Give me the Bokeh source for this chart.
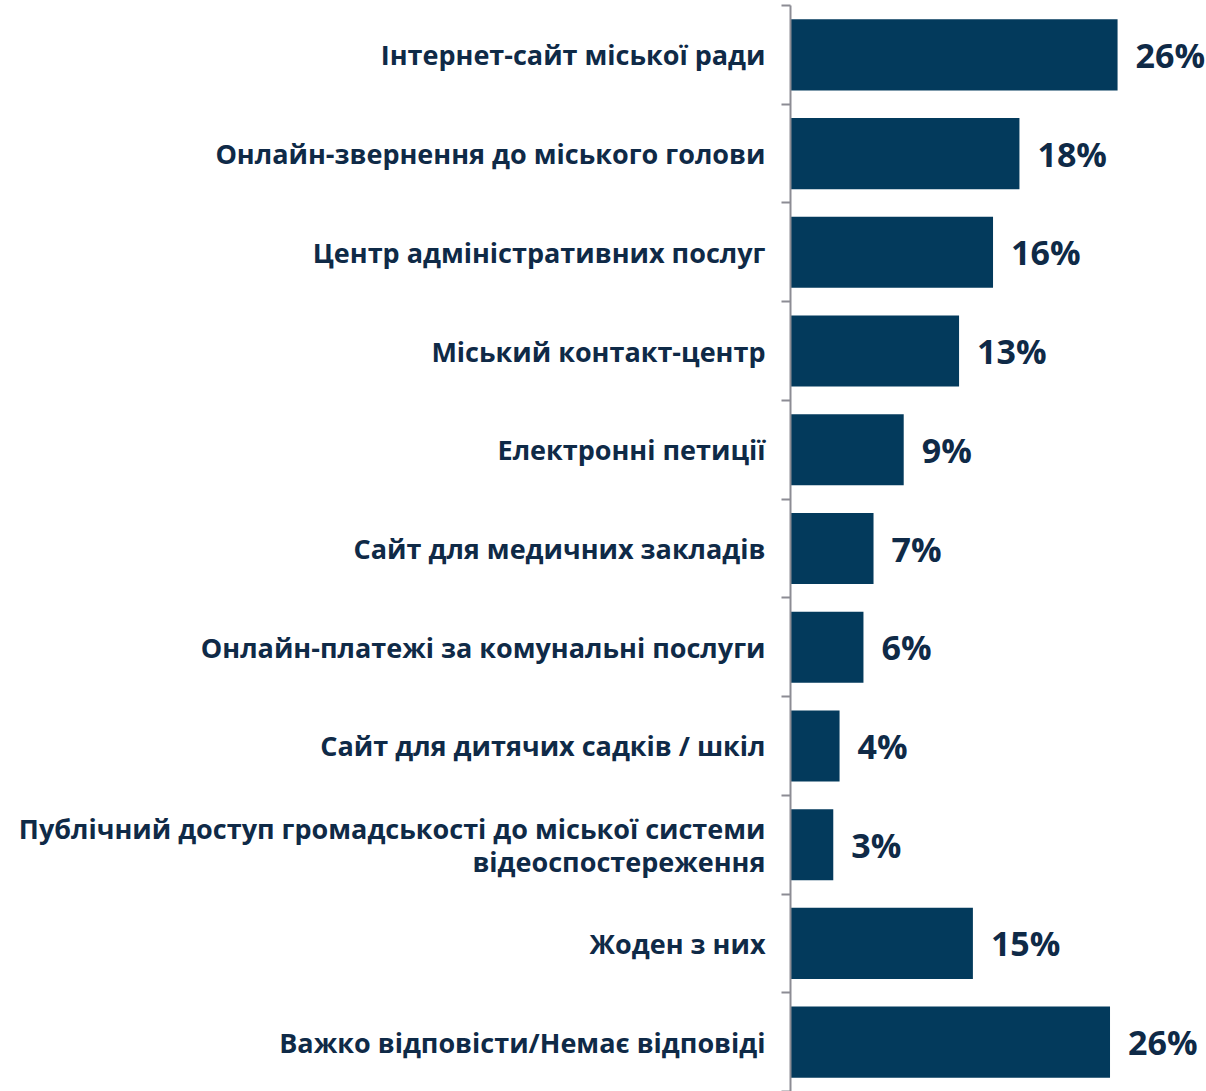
from bokeh.plotting import figure
from bokeh.models import (ColumnDataSource, Range1d, LinearAxis, FixedTicker)
from bokeh.core.properties import value
from bokeh.embed import file_html
from bokeh.resources import INLINE

categories = [
    "Інтернет-сайт міської ради",
    "Онлайн-звернення до міського голови",
    "Центр адміністративних послуг",
    "Міський контакт-центр",
    "Електронні петиції",
    "Сайт для медичних закладів",
    "Онлайн-платежі за комунальні послуги",
    "Сайт для дитячих садків / шкіл",
    "Публічний доступ громадськості до міської системи\nвідеоспостереження",
    "Жоден з них",
    "Важко відповісти/Немає відповіді",
]
values = [26.0, 18.2, 16.1, 13.4, 9.0, 6.6, 5.8, 3.9, 3.4, 14.5, 25.4]
value_labels = ["26%", "18%", "16%", "13%", "9%", "7%", "6%", "4%", "3%", "15%", "26%"]

BAR = "#033a5c"
TEXT = "#0f2a47"
FONT = "Open Sans"

n = len(categories)
centers = [n - i - 0.5 for i in range(n)]
edges = list(range(n + 1))
src = ColumnDataSource(dict(y=centers, val=values, lab=value_labels))

p = figure(width=1206, height=1091, output_backend="svg", toolbar_location=None,
           y_range=Range1d(0, n), x_range=Range1d(0, 33.07),
           x_axis_location=None, y_axis_location=None,
           min_border_left=790, min_border_right=0, min_border_top=5,
           min_border_bottom=0)
p.outline_line_color = None
p.grid.visible = False
p.background_fill_color = "white"
p.border_fill_color = "white"

tick_axis = LinearAxis(ticker=FixedTicker(ticks=edges),
                       major_label_overrides={e: "" for e in edges},
                       major_label_standoff=0,
                       axis_line_color="#8c8c94", axis_line_width=2,
                       major_tick_line_color="#8c8c94", major_tick_line_width=2,
                       major_tick_out=9, major_tick_in=0, minor_tick_line_color=None)
p.add_layout(tick_axis, "left")

label_axis = LinearAxis(ticker=FixedTicker(ticks=centers),
                        major_label_overrides={c: lab for c, lab in zip(centers, categories)},
                        axis_line_color=None, major_tick_line_color=None,
                        minor_tick_line_color=None,
                        major_label_text_font=FONT,
                        major_label_text_font_style="bold",
                        major_label_text_font_size="27px",
                        major_label_text_line_height=0.9,
                        major_label_text_color=TEXT,
                        major_label_standoff=10)
p.add_layout(label_axis, "left")

p.hbar(y="y", right="val", left=0, height=0.72, source=src,
       fill_color=BAR, line_color=None)

p.text(x="val", y="y", text="lab", source=src, x_offset=18,
       text_align="left", text_baseline="middle",
       text_font=value(FONT), text_font_size="34px",
       text_font_style="bold", text_color=TEXT)

open("out.html", "w").write(file_html(p, INLINE))
